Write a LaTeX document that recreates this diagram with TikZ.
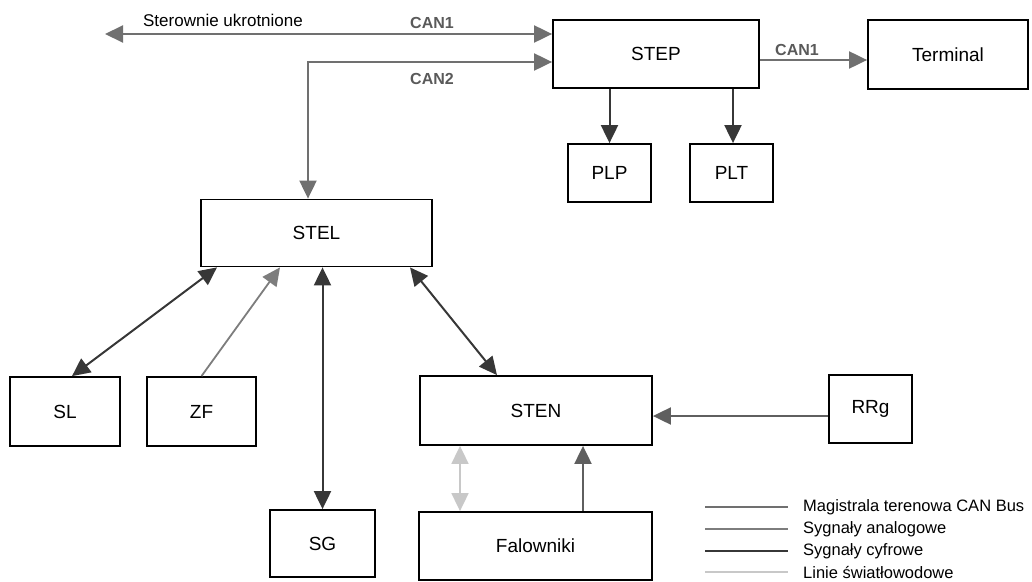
\documentclass[tikz,border=0pt]{standalone}
\usepackage{fontspec}
\setmainfont{Liberation Sans}
\usepackage{tikz}
\usetikzlibrary{arrows.meta, positioning, calc}
\definecolor{canbus}{RGB}{112, 112, 112}
\definecolor{analog}{RGB}{125, 125, 125}
\definecolor{digital}{RGB}{55, 55, 55}
\definecolor{fiber}{RGB}{200, 200, 200}

\begin{document}
\begin{tikzpicture}[x=1pt, y=-1pt, >={Triangle[length=18pt, width=17pt]},
    box/.style={draw, line width=1.8pt, inner sep=0pt, font=\fontsize{19}{22}\selectfont},
    can/.style={canbus, line width=2pt},
    ana/.style={analog, line width=1.8pt},
    dig/.style={digital, line width=2pt},
    fib/.style={fiber, line width=1.8pt},
    lbl/.style={canbus!80!black, font=\bfseries\fontsize{16}{19}\selectfont}]
    \useasboundingbox (0,0) rectangle (1032,581);

    % sterownie
    \node[box, minimum width=206pt, minimum height=68pt] (step) at (656, 54) {STEP};
    \node[box, minimum width=160pt, minimum height=69pt] (term) at (948, 54.5) {Terminal};
    \node[box, minimum width=83pt, minimum height=58pt] (plp) at (609.5, 173) {PLP};
    \node[box, minimum width=83pt, minimum height=58pt] (plt) at (731.5, 173) {PLT};
    \node[box, minimum width=231pt, minimum height=67pt] (stel) at (316.5, 233) {STEL};
    \node[box, minimum width=110pt, minimum height=69pt] (sl) at (65, 411.5) {SL};
    \node[box, minimum width=109pt, minimum height=69pt] (zf) at (201.5, 411.5) {ZF};
    \node[box, minimum width=232pt, minimum height=69pt] (sten) at (536, 410.5) {STEN};
    \node[box, minimum width=83pt, minimum height=68pt] (rrg) at (870.5, 409) {RRg};
    \node[box, minimum width=105pt, minimum height=67pt] (sg) at (322.5, 543.5) {SG};
    \node[box, minimum width=233pt, minimum height=68pt] (fal) at (535.5, 546) {Falowniki};

    % magistrala CAN
    \coordinate (ster) at (105, 34);
    \draw[can, <->] (ster) -- (ster -| step.west);
    \node[font=\fontsize{17}{20}\selectfont] (sterlbl) at (223, 20) {Sterownie ukrotnione};
    \node[lbl] (can1) at (432, 23) {CAN1};
    \draw[can, <->] ([xshift=-8.5pt]stel.north) |- ([yshift=-8pt]step.west);
    \node[lbl] (can2) at (432, 79) {CAN2};
    \draw[can, ->] ([yshift=-6pt]step.east) -- ([yshift=-6pt]step.east -| term.west);
    \node[lbl] (can1b) at (797, 50) {CAN1};

    % sygnaly
    \draw[dig, ->] (plp.north |- step.south) -- (plp.north);
    \draw[dig, ->] ([xshift=1.5pt]plt.north |- step.south) -- ([xshift=1.5pt]plt.north);
    \draw[dig, <->] ([xshift=7pt]sl.north) -- ([xshift=-99.5pt]stel.south);
    \draw[ana, ->] (zf.north) -- ([xshift=-36.5pt]stel.south);
    \draw[dig, <->] (sg.north) -- (sg.north |- stel.south);
    \draw[dig, <->] ([xshift=93.5pt]stel.south) -- ([xshift=-39pt]sten.north);
    \draw[dig, digital!80!white, ->] ([yshift=-7pt]rrg.west) -- ([yshift=-7pt]rrg.west -| sten.east);
    \draw[dig, digital!80!white, ->] ([xshift=47.5pt]fal.north) -- ([xshift=47.5pt]fal.north |- sten.south);
    \draw[fib, <->] ([xshift=-75.5pt]fal.north) -- ([xshift=-75.5pt]fal.north |- sten.south);

    % legenda
    \foreach \i/\y/\s/\t in {1/507/can/Magistrala terenowa CAN Bus, 2/529/ana/Sygnały analogowe,
                            3/551/dig/Sygnały cyfrowe, 4/572/fib/Linie światłowodowe} {
        \draw[\s, line width=1.4pt] (705, \y) -- (788, \y);
        \node[right, inner sep=0pt, font=\fontsize{16.5}{19}\selectfont] (leg\i) at (803, \y) {\t};
    }
\end{tikzpicture}
\end{document}
